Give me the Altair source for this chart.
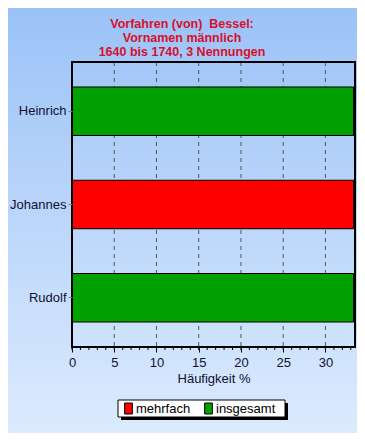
import altair as alt
import pandas as pd

names = ["Heinrich", "Johannes", "Rudolf"]
values = [33.33, 33.33, 33.33]
kinds = ["insgesamt", "mehrfach", "insgesamt"]
legend_labels = ["mehrfach", "insgesamt"]
legend_colors = ["#ff0000", "#00a000"]
major_ticks = [0, 5, 10, 15, 20, 25, 30]
grid_ticks = [5, 10, 15, 20, 25, 30]
minor_ticks = list(range(0, 34))
title_lines = ["Vorfahren (von)\u00a0 Bessel:", "Vornamen männlich", "1640 bis 1740, 3 Nennungen"]
x_title = "Häufigkeit %"

W, H = 283, 285
XMAX = 33.5
FONT = "Liberation Sans"

bars_df = pd.DataFrame({"name": names, "value": values, "kind": kinds})
one = pd.DataFrame({"k": [0]})

xscale = alt.Scale(domain=[0, XMAX], nice=False, zero=True)
xaxis = alt.Axis(values=major_ticks, grid=False, domain=False, tickSize=5, tickColor="black",
                 labelFontSize=13, labelFont=FONT, labelColor="#101030", labelPadding=4,
                 labelFlush=False,
                 titleFontSize=13, titleFont=FONT, titleFontWeight="normal", titleColor="#101030",
                 titlePadding=3, zindex=1)

grad = alt.LinearGradient(
    gradient="linear",
    stops=[alt.GradientStop(color="#9bc2f7", offset=0), alt.GradientStop(color="#dcebfe", offset=1)],
    x1=0, x2=0, y1=0, y2=1,
)

bg = alt.Chart(one).mark_rect(color=grad).encode(
    x=alt.value(-64), x2=alt.value(285), y=alt.value(-54), y2=alt.value(371)
)

title = alt.Chart(one).mark_text(
    font=FONT, fontSize=12.5, fontWeight="bold", color="#d8102a", lineHeight=14,
    align="center", baseline="middle"
).encode(text=alt.value(title_lines), x=alt.value(110), y=alt.value(-38))

grid = alt.Chart(pd.DataFrame({"t": grid_ticks})).mark_rule(
    color="#555555", strokeDash=[4, 4], strokeWidth=1
).encode(x=alt.X("t:Q", scale=xscale, axis=xaxis, title=x_title))

minor = alt.Chart(pd.DataFrame({"t": minor_ticks})).mark_rule(color="black", strokeWidth=1).encode(
    x=alt.X("t:Q", scale=xscale, axis=xaxis, title=x_title),
    y=alt.value(H), y2=alt.value(H + 3),
)

bars = alt.Chart(bars_df).mark_bar(stroke="black", strokeWidth=1).encode(
    x=alt.X("value:Q", scale=xscale, axis=xaxis, title=x_title),
    y=alt.Y("name:N", sort=names, title=None,
            scale=alt.Scale(paddingInner=0.48, paddingOuter=0.268),
            axis=alt.Axis(domain=False, tickSize=4, tickColor="#808080", labelFontSize=13,
                          labelFont=FONT, labelColor="#101030", labelPadding=2, zindex=1)),
    color=alt.Color("kind:N", scale=alt.Scale(domain=legend_labels, range=legend_colors),
                    legend=alt.Legend(title=None, orient="none", legendX=50, legendY=340,
                                      direction="horizontal", padding=0,
                                      symbolType="M-0.7,-1H0.7V1H-0.7Z", symbolSize=121,
                                      symbolStrokeColor="black", symbolStrokeWidth=1,
                                      labelFontSize=13, labelFont=FONT, labelColor="black",
                                      columnPadding=11, labelOffset=1, symbolOpacity=1)),
)

shadow = alt.Chart(one).mark_rect(color="black").encode(
    x=alt.value(49), x2=alt.value(216), y=alt.value(341), y2=alt.value(358)
)
box = alt.Chart(one).mark_rect(color="white", stroke="black", strokeWidth=1).encode(
    x=alt.value(46), x2=alt.value(213), y=alt.value(338), y2=alt.value(355)
)

frame = alt.Chart(one).mark_rect(fillOpacity=0, stroke="black", strokeWidth=2).encode(
    x=alt.value(0), x2=alt.value(W), y=alt.value(0), y2=alt.value(H)
)

chart = alt.layer(bg, title, grid, minor, bars, frame, shadow, box).properties(
    width=W, height=H,
    autosize=alt.AutoSizeParams(type="none"),
    padding={"left": 64, "top": 54, "right": 2, "bottom": 86},
).configure_view(stroke=None)

chart.save("out.html", embed_options={"renderer": "svg", "actions": False})
